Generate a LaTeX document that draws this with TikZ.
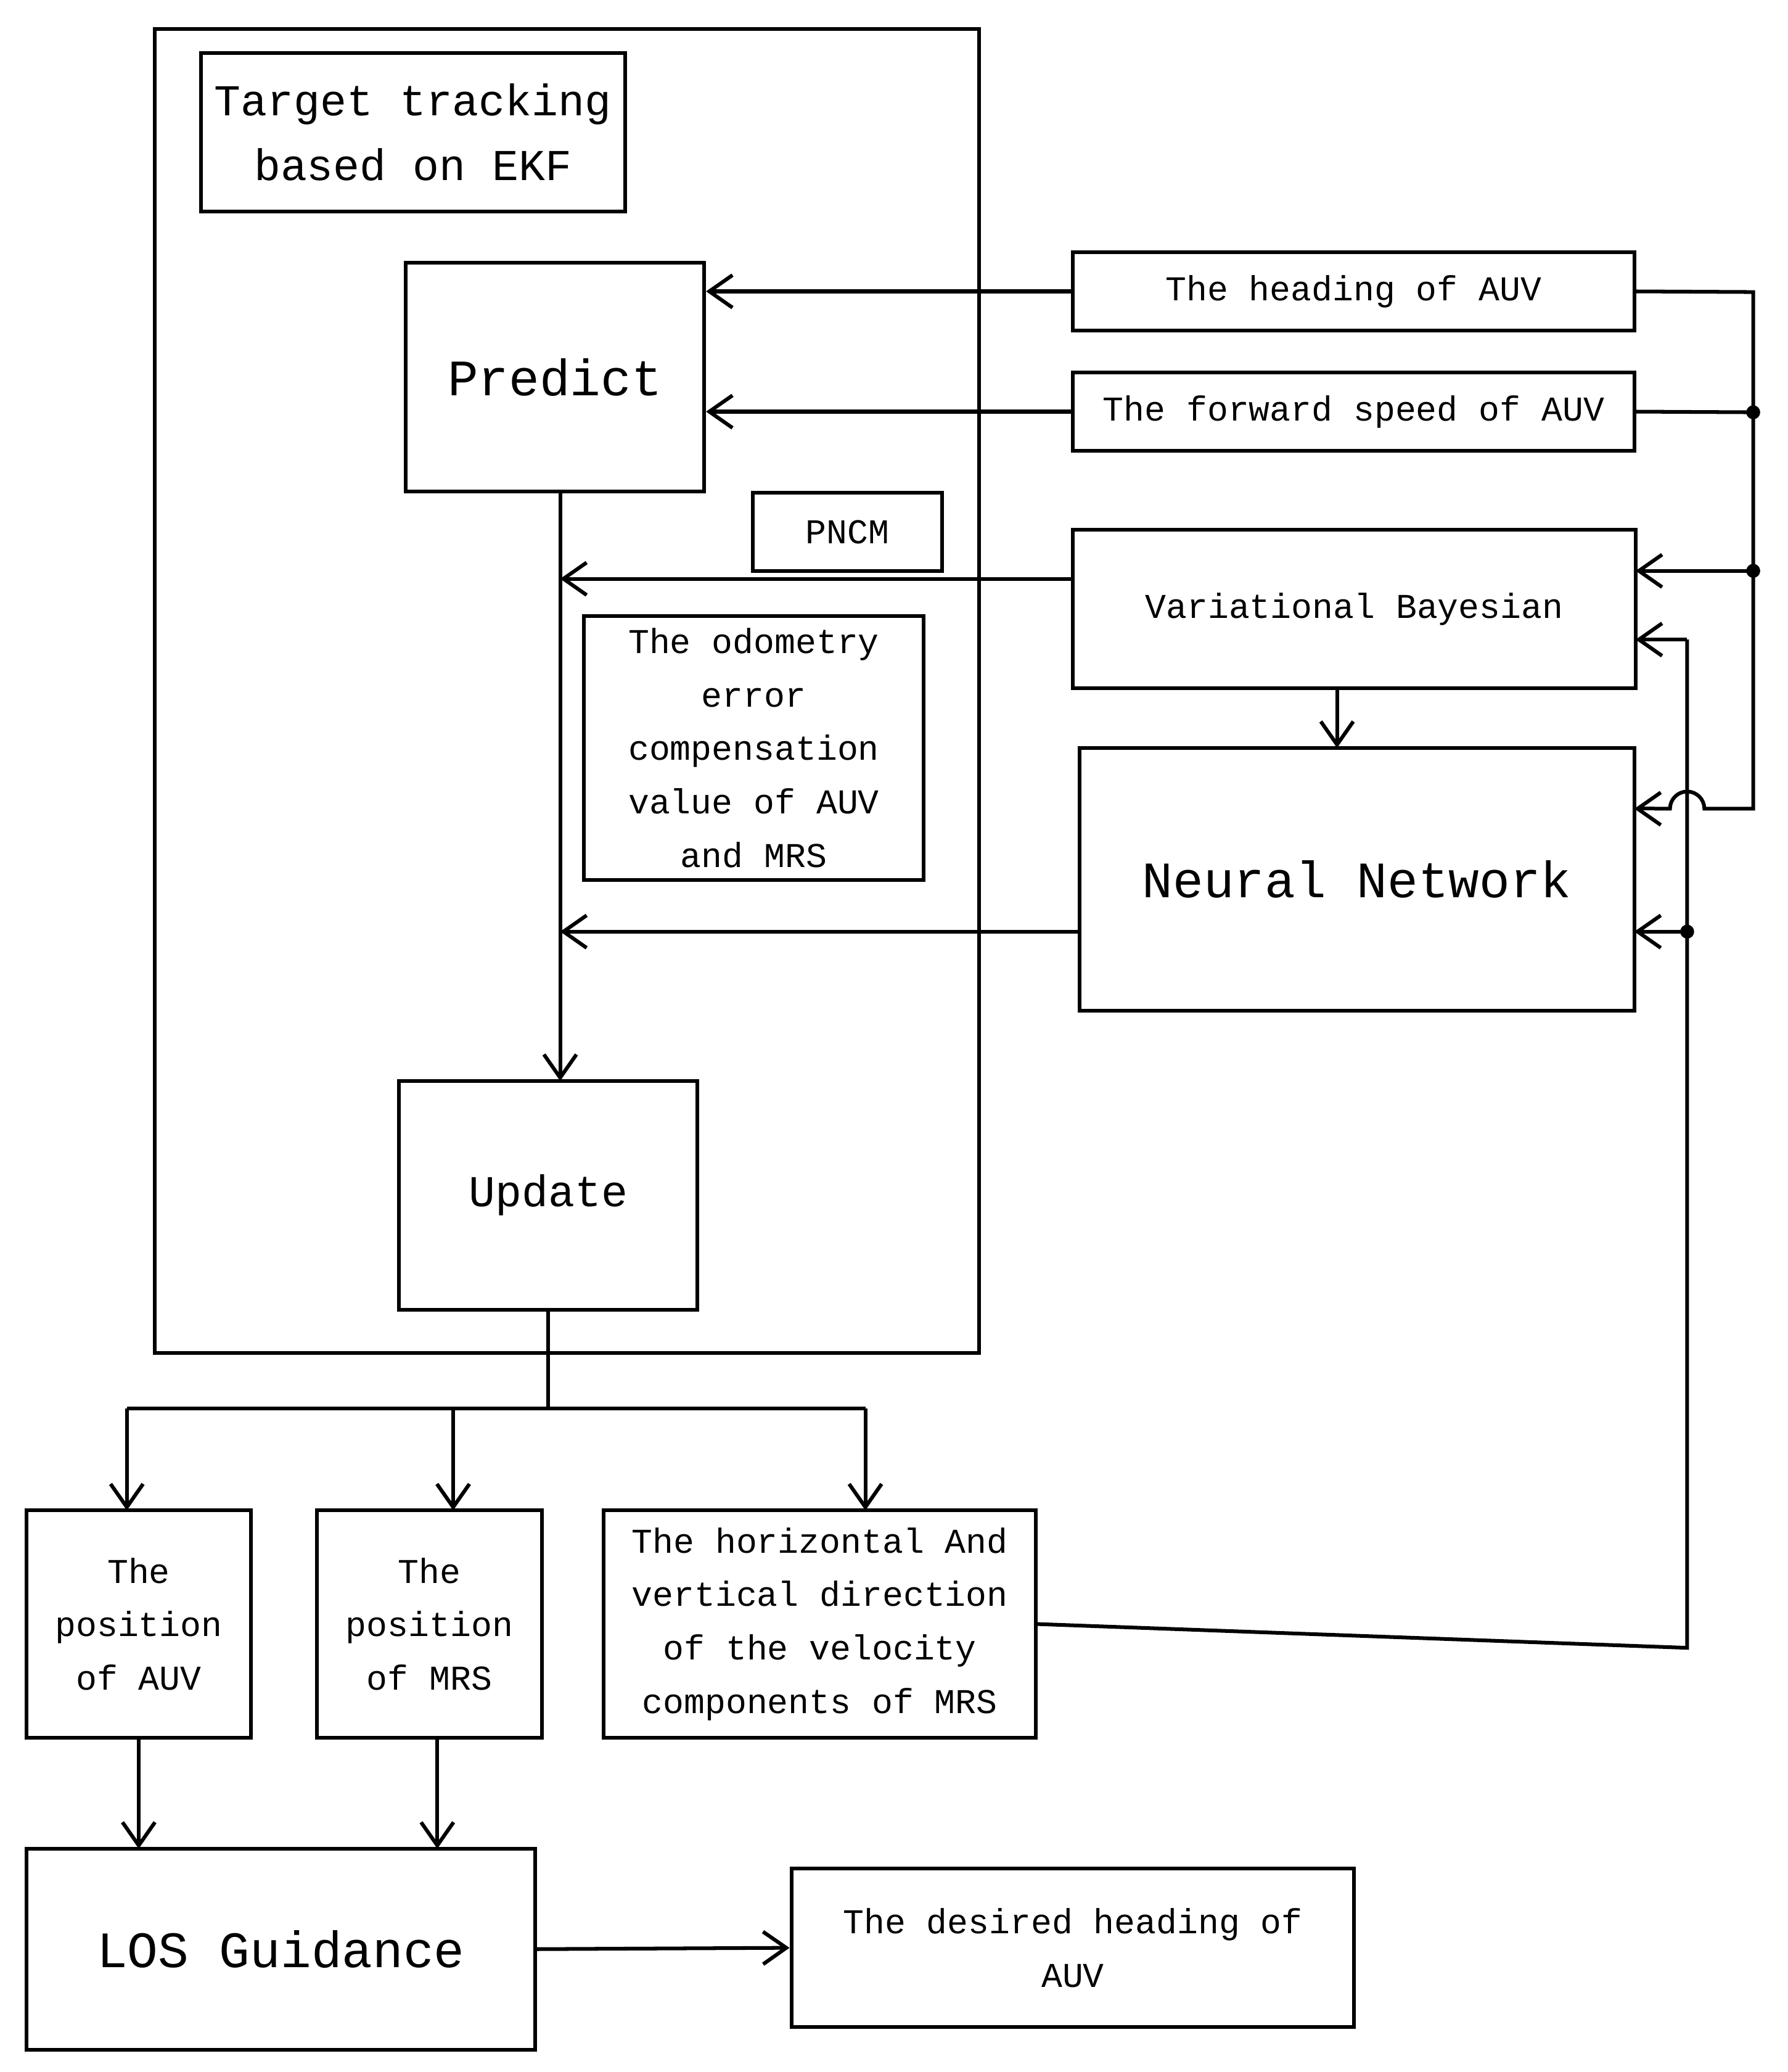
\documentclass[tikz,border=0pt]{standalone}
\usepackage{fontspec}
\setmainfont{Liberation Mono}
\usetikzlibrary{arrows.meta}
\begin{document}
\begin{tikzpicture}[x=0.02cm,y=-0.02cm,
  line width=1.6pt,
  box/.style={draw,rectangle,inner sep=0pt,align=center},
  arr/.style={-{Straight Barb[length=10pt,width=14pt,line width=1.6pt]}},
  sm/.style={font=\fontsize{15}{23}\selectfont},
  big/.style={font=\fontsize{22}{30}\selectfont},
  dot/.style={circle,fill,inner sep=0pt,minimum size=6pt}]
\useasboundingbox (0,0) rectangle (1353,1568);
\node[box,minimum width=624*0.02cm,minimum height=1002*0.02cm] (outer) at (429,523) {};
\node[box,minimum width=321*0.02cm,minimum height=120*0.02cm,font=\fontsize{19}{28}\selectfont] (title) at (312.5,100) {Target tracking\\based on EKF};
\node[box,big,minimum width=226*0.02cm,minimum height=173*0.02cm] (pred) at (420,285.5) {Predict};
\node[box,sm,minimum width=425*0.02cm,minimum height=59*0.02cm] (head) at (1024.5,220.5) {The heading of AUV};
\node[box,sm,minimum width=425*0.02cm,minimum height=59*0.02cm] (fwd) at (1024.5,311.5) {The forward speed of AUV};
\node[box,sm,minimum width=143*0.02cm,minimum height=59*0.02cm] (pncm) at (641.5,402.5) {PNCM};
\node[box,sm,minimum width=426*0.02cm,minimum height=120*0.02cm] (vb) at (1025,461) {Variational Bayesian};
\node[box,sm,minimum width=257*0.02cm,minimum height=200*0.02cm] (odo) at (570.5,566) {The odometry\\error\\compensation\\value of AUV\\and MRS};
\node[box,big,minimum width=420*0.02cm,minimum height=199*0.02cm] (nn) at (1027,665.5) {Neural Network};
\node[box,font=\fontsize{19}{28}\selectfont,minimum width=226*0.02cm,minimum height=173*0.02cm] (upd) at (415,904.5) {Update};
\node[box,sm,minimum width=170*0.02cm,minimum height=172*0.02cm] (pauv) at (105,1229) {The\\position\\of AUV};
\node[box,sm,minimum width=170*0.02cm,minimum height=172*0.02cm] (pmrs) at (325,1229) {The\\position\\of MRS};
\node[box,sm,minimum width=327*0.02cm,minimum height=172*0.02cm] (hor) at (620.5,1229) {The horizontal And\\vertical direction\\of the velocity\\components of MRS};
\node[box,big,minimum width=385*0.02cm,minimum height=152*0.02cm] (los) at (212.5,1475) {LOS Guidance};
\node[box,sm,minimum width=426*0.02cm,minimum height=120*0.02cm] (des) at (812,1474) {The desired heading of\\AUV};
% coordinates
\coordinate (pb) at (424,372);
\coordinate (d1) at (1327,312);
\coordinate (d2) at (1327,432);
\coordinate (d3) at (1277,705);
\coordinate (split) at (415,1066);
\node[dot] at (d1) {};
\node[dot] at (d2) {};
\node[dot] at (d3) {};
% left arrows
\draw[arr] (head.west) -- (head.west -| pred.east);
\draw[arr] (fwd.west) -- (fwd.west -| pred.east);
\draw[arr] (424,372) -- (424,818);
\draw[arr] (vb.west |- 0,438) -- (424,438);
\draw[arr] (nn.west |- 0,705) -- (424,705);
\draw[arr] (1012,521) -- (1012,566);
% right bus
\draw (head.east) -- (1327,221) -- (1327,612) -- (1290,612) arc (0:180:13 and -13) -- (1252,612);
\draw[arr] (1252,612) -- (1237,612);
\draw (fwd.east) -- (d1);
\draw[arr] (d2) -- (1238,432);
\draw (hor.east) -- (1277,1247) -- (1277,484);
\draw[arr] (1277,484) -- (1238,484);
\draw[arr] (d3) -- (1237,705);
% update split
\draw (upd.south) -- (split);
\draw (96,1066) -- (655,1066);
\draw[arr] (96,1066) -- (96,1143);
\draw[arr] (343,1066) -- (343,1143);
\draw[arr] (655,1066) -- (655,1143);
\draw[arr] (105,1315) -- (105,1399);
\draw[arr] (331,1315) -- (331,1399);
\draw[arr] (los.east) -- (des.west);
\end{tikzpicture}
\end{document}
